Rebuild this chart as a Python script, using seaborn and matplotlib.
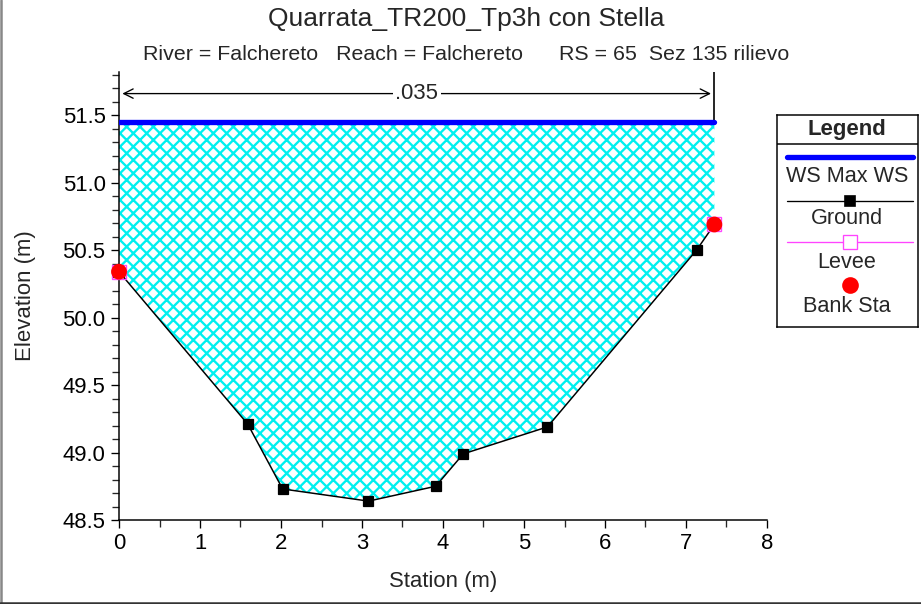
import matplotlib
matplotlib.use("Agg")
import matplotlib.pyplot as plt
import seaborn as sns
import pandas as pd
from matplotlib.lines import Line2D

# Cross-section data
station = [0.0, 1.59, 2.02, 3.08, 3.91, 4.25, 5.29, 7.13, 7.35]
elevation = [50.34, 49.21, 48.73, 48.64, 48.75, 48.99, 49.19, 50.50, 50.69]
ws_station = [0.0, 7.35]
ws_elev = [51.45, 51.45]
bank_station = [0.0, 7.35]
bank_elev = [50.34, 50.69]
n_value = ".035"

title = "Quarrata_TR200_Tp3h con Stella"
subtitle = "River = Falchereto   Reach = Falchereto      RS = 65  Sez 135 rilievo"
legend_labels = ["WS Max WS", "Ground", "Levee", "Bank Sta"]

ground_df = pd.DataFrame({"station": station, "elevation": elevation})
ws_df = pd.DataFrame({"station": ws_station, "elevation": ws_elev})

sns.set_style("ticks")
plt.rcParams["font.family"] = ["Liberation Sans", "DejaVu Sans"]
plt.rcParams["hatch.linewidth"] = 1.4

FS = 13.3
DPI = 120
fig = plt.figure(figsize=(921 / DPI, 604 / DPI), dpi=DPI)
ax = fig.add_axes([119 / 921, 1 - 520 / 604, 648 / 921, 448 / 604])

# Water area between ground and water surface
ax.fill_between(station, elevation, ws_elev[0], facecolor="white",
                edgecolor="#00f0f0", hatch="xxx", linewidth=0, zorder=1)

sns.lineplot(data=ws_df, x="station", y="elevation", color="#0000ff",
             linewidth=3.2, sort=False, ax=ax, zorder=4)
sns.lineplot(data=ground_df, x="station", y="elevation", color="black",
             linewidth=0.9, marker="s", markersize=5.5, markeredgecolor="black",
             sort=False, ax=ax, zorder=3)
ax.plot(bank_station, bank_elev, linestyle="none", marker="s", markersize=8.5,
        markerfacecolor="none", markeredgecolor="#ff44ff", markeredgewidth=0.8,
        zorder=5, clip_on=False)
sns.scatterplot(x=bank_station, y=bank_elev, color="red", s=90, edgecolor="none",
                ax=ax, zorder=6, clip_on=False)

# Manning's n dimension line
ylim_top = 51.82
ax.annotate("", xy=(ws_station[0], 51.66), xytext=(ws_station[1], 51.66),
            arrowprops=dict(arrowstyle="<->", color="black", lw=0.8, mutation_scale=14))
ax.text(sum(ws_station) / 2, 51.66, n_value, ha="center", va="center", fontsize=FS,
        bbox=dict(facecolor="white", edgecolor="none", pad=1.5))
ax.plot([ws_station[1], ws_station[1]], [ws_elev[1], ylim_top], color="black", lw=1.0)

ax.set_xlim(0, 8)
ax.set_ylim(48.5, ylim_top)
ax.set_xticks(range(0, 9))
ax.set_xticks([i + 0.5 for i in range(8)], minor=True)
ax.set_yticks([48.5, 49.0, 49.5, 50.0, 50.5, 51.0, 51.5])
ax.set_yticks([48.5 + 0.1 * i for i in range(34)], minor=True)
ax.set_yticklabels(["48.5", "49.0", "49.5", "50.0", "50.5", "51.0", "51.5"])
ax.tick_params(axis="both", which="major", direction="out", length=5, width=0.8,
               labelsize=FS, colors="black", pad=3)
ax.tick_params(axis="both", which="minor", direction="out", length=4, width=0.8)
for s in ["top", "right"]:
    ax.spines[s].set_visible(False)
for s in ["left", "bottom"]:
    ax.spines[s].set_linewidth(0.9)
    ax.spines[s].set_color("black")
ax.set_xlabel("Station (m)", fontsize=FS, labelpad=10)
ax.set_ylabel("Elevation (m)", fontsize=FS, labelpad=16)

fig.text(466 / 921, 1 - 19 / 604, title, ha="center", va="center", fontsize=15.8)
fig.text(466 / 921, 1 - 55 / 604, subtitle, ha="center", va="center", fontsize=12.8)

# Figure frame (left and bottom edges)
fig.add_artist(Line2D([0.001, 0.001], [0, 1], color="#888888", lw=1.5, transform=fig.transFigure))
fig.add_artist(Line2D([0, 1], [0.002, 0.002], color="#333333", lw=1.5, transform=fig.transFigure))

# Legend box, handles stacked above labels
lg = fig.add_axes([777 / 921, 1 - 327 / 604, 141 / 921, 212 / 604])
lg.set_xlim(0, 141)
lg.set_ylim(212, 0)
lg.set_xticks([])
lg.set_yticks([])
for s in lg.spines.values():
    s.set_linewidth(0.9)
    s.set_color("black")
lg.axhline(29, color="black", lw=0.9)
lg.text(70, 14, "Legend", ha="center", va="center", fontsize=FS, fontweight="bold")
lg.plot([10, 136], [42, 42], color="#0000ff", lw=3.2, solid_capstyle="round")
lg.plot([10, 136], [86, 86], color="black", lw=0.8)
lg.plot([73], [86], marker="s", color="black", markersize=5.5)
lg.plot([10, 136], [127, 127], color="#ff44ff", lw=0.8)
lg.plot([73], [127], marker="s", markersize=8.5, markerfacecolor="white",
        markeredgecolor="#ff44ff", markeredgewidth=0.8)
lg.plot([73], [170], marker="o", color="red", markersize=9)
for lab, yy in zip(legend_labels, [62, 104, 148, 191]):
    lg.text(70, yy, lab, ha="center", va="center", fontsize=FS - 0.3)

fig.savefig("out.png", dpi=DPI)
